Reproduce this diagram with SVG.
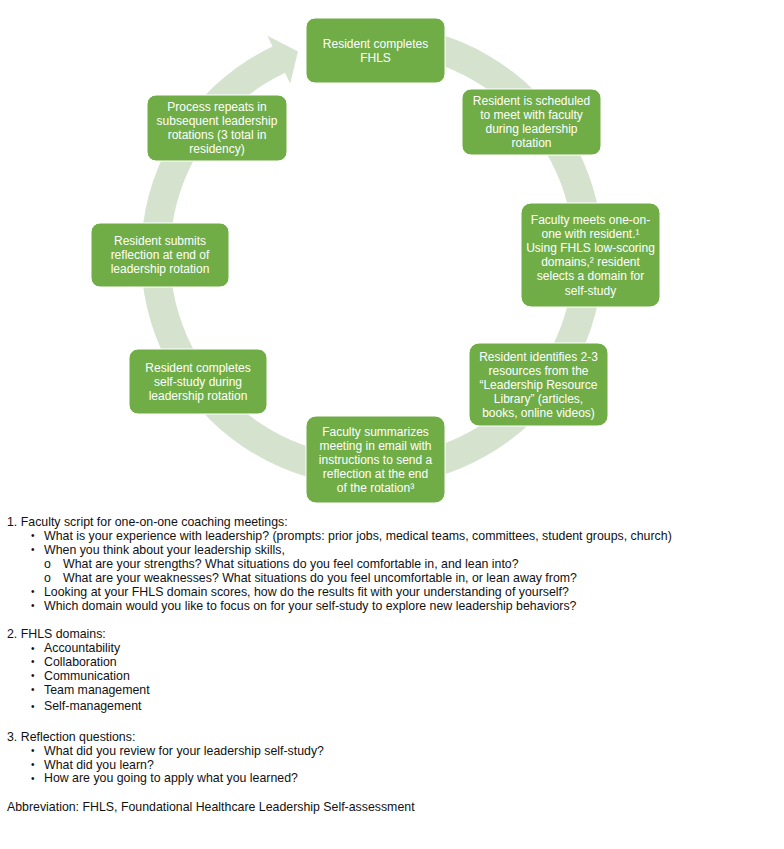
<svg xmlns="http://www.w3.org/2000/svg" width="784" height="849" viewBox="0 0 784 849">
<style>
  .box { fill: #70AD47; stroke: #FFFFFF; stroke-width: 1; }
  .nt { font-family: "Liberation Sans", Arial, sans-serif; font-size: 12px; fill: #FFFFFF; text-anchor: middle; }
  .ring { fill: #D4E2CE; stroke: none; }
  .body { font-family: "Liberation Sans", Arial, sans-serif; font-size: 12.35px; fill: #111111; }
  .bul { font-size: 10px; }
</style>
<rect x="0" y="0" width="784" height="849" fill="#FFFFFF"/>
<g id="connectors">
  <path class="ring" d="M 351.87 24.88 A 231 231 0 1 1 272.55 46.50 L 267.39 35.67 L 297.95 51.56 L 290.20 83.51 L 285.04 72.68 A 202 202 0 1 0 354.39 53.77 Z"/>
</g>
<g id="node1">
  <rect class="box" x="306" y="18" width="139" height="65" rx="9"/>
  <text class="nt" x="375.5" y="47.75">Resident completes</text>
  <text class="nt" x="375.5" y="61.85">FHLS</text>
</g>
<g id="node2">
  <rect class="box" x="462" y="89" width="139" height="66" rx="9"/>
  <text class="nt" x="531.5" y="105.15">Resident is scheduled</text>
  <text class="nt" x="531.5" y="119.25">to meet with faculty</text>
  <text class="nt" x="531.5" y="133.35">during leadership</text>
  <text class="nt" x="531.5" y="147.45">rotation</text>
</g>
<g id="node3">
  <rect class="box" x="521" y="203" width="139" height="104" rx="10"/>
  <text class="nt" x="590.5" y="224.05">Faculty meets one-on-</text>
  <text class="nt" x="590.5" y="238.15">one with resident.¹</text>
  <text class="nt" x="590.5" y="252.25">Using FHLS low-scoring</text>
  <text class="nt" x="590.5" y="266.35">domains,² resident</text>
  <text class="nt" x="590.5" y="280.45">selects a domain for</text>
  <text class="nt" x="590.5" y="294.55">self-study</text>
</g>
<g id="node4">
  <rect class="box" x="469" y="343" width="139" height="83" rx="10"/>
  <text class="nt" x="538.5" y="360.6">Resident identifies 2-3</text>
  <text class="nt" x="538.5" y="374.7">resources from the</text>
  <text class="nt" x="538.5" y="388.8">“Leadership Resource</text>
  <text class="nt" x="538.5" y="402.9">Library” (articles,</text>
  <text class="nt" x="538.5" y="417.0">books, online videos)</text>
</g>
<g id="node5">
  <rect class="box" x="306" y="416" width="139" height="87" rx="10"/>
  <text class="nt" x="375.5" y="435.6">Faculty summarizes</text>
  <text class="nt" x="375.5" y="449.7">meeting in email with</text>
  <text class="nt" x="375.5" y="463.8">instructions to send a</text>
  <text class="nt" x="375.5" y="477.9">reflection at the end</text>
  <text class="nt" x="375.5" y="492.0">of the rotation³</text>
</g>
<g id="node6">
  <rect class="box" x="129" y="349" width="138" height="65" rx="9"/>
  <text class="nt" x="198" y="371.7">Resident completes</text>
  <text class="nt" x="198" y="385.8">self-study during</text>
  <text class="nt" x="198" y="399.9">leadership rotation</text>
</g>
<g id="node7">
  <rect class="box" x="91" y="223" width="138" height="64" rx="9"/>
  <text class="nt" x="160" y="245.2">Resident submits</text>
  <text class="nt" x="160" y="259.3">reflection at end of</text>
  <text class="nt" x="160" y="273.4">leadership rotation</text>
</g>
<g id="node8">
  <rect class="box" x="147" y="95" width="140" height="66" rx="9"/>
  <text class="nt" x="217" y="111.15">Process repeats in</text>
  <text class="nt" x="217" y="125.25">subsequent leadership</text>
  <text class="nt" x="217" y="139.35">rotations (3 total in</text>
  <text class="nt" x="217" y="153.45">residency)</text>
</g>
<g id="notes" class="body">
  <text x="7" y="525.5">1. Faculty script for one-on-one coaching meetings:</text>
  <text class="bul" x="31" y="539">•</text><text x="44" y="539.5">What is your experience with leadership? (prompts: prior jobs, medical teams, committees, student groups, church)</text>
  <text class="bul" x="31" y="553">•</text><text x="44" y="553.5">When you think about your leadership skills,</text>
  <text x="44" y="567.5">o</text><text x="63" y="567.5">What are your strengths? What situations do you feel comfortable in, and lean into?</text>
  <text x="44" y="581.5">o</text><text x="63" y="581.5">What are your weaknesses? What situations do you feel uncomfortable in, or lean away from?</text>
  <text class="bul" x="31" y="595">•</text><text x="44" y="595.5">Looking at your FHLS domain scores, how do the results fit with your understanding of yourself?</text>
  <text class="bul" x="31" y="609">•</text><text x="44" y="609.5">Which domain would you like to focus on for your self-study to explore new leadership behaviors?</text>

  <text x="7" y="637.7">2. FHLS domains:</text>
  <text class="bul" x="31" y="651.5">•</text><text x="44" y="652">Accountability</text>
  <text class="bul" x="31" y="665">•</text><text x="44" y="665.5">Collaboration</text>
  <text class="bul" x="31" y="679">•</text><text x="44" y="679.5">Communication</text>
  <text class="bul" x="31" y="693">•</text><text x="44" y="693.5">Team management</text>
  <text class="bul" x="31" y="709.5">•</text><text x="44" y="710">Self-management</text>

  <text x="7" y="740.5">3. Reflection questions:</text>
  <text class="bul" x="31" y="754">•</text><text x="44" y="754.5">What did you review for your leadership self-study?</text>
  <text class="bul" x="31" y="768">•</text><text x="44" y="768.5">What did you learn?</text>
  <text class="bul" x="31" y="781.5">•</text><text x="44" y="782">How are you going to apply what you learned?</text>

  <text x="7" y="811">Abbreviation: FHLS, Foundational Healthcare Leadership Self-assessment</text>
</g>
</svg>
